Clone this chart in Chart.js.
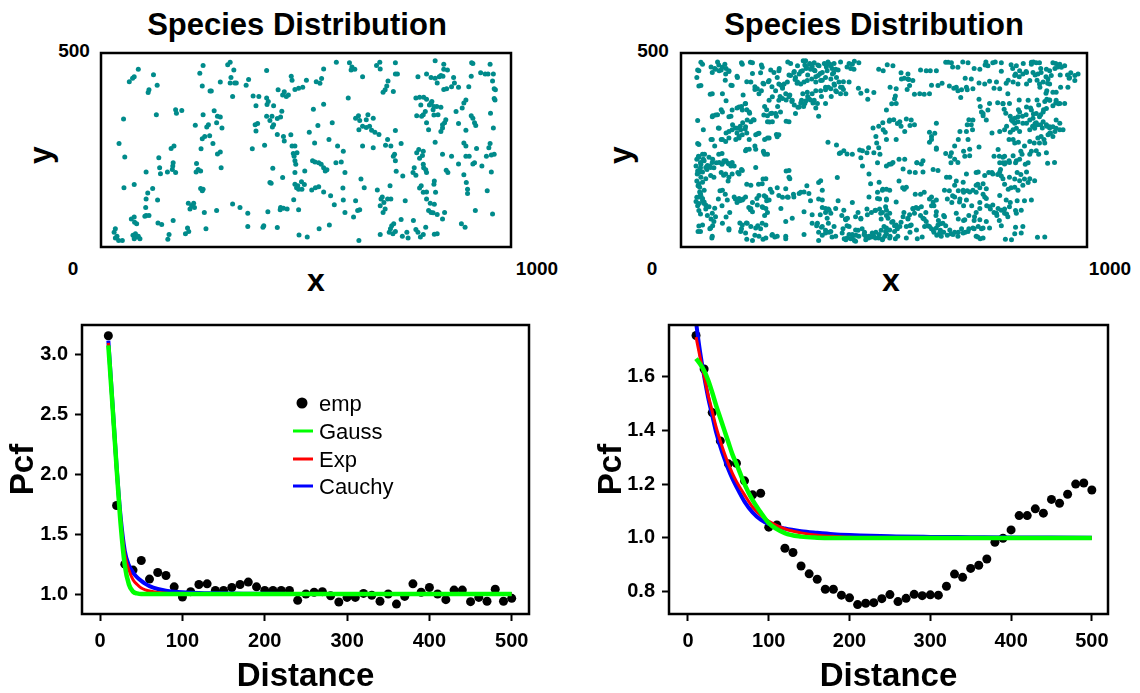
<!DOCTYPE html>
<html><head><meta charset="utf-8">
<script src="https://cdn.jsdelivr.net/npm/chart.js@4"></script>
<style>
body{margin:0;background:#fff;width:1140px;height:693px;position:relative;overflow:hidden;font-family:"Liberation Sans",Arial,Helvetica,sans-serif;}
canvas{position:absolute;}
.t{position:absolute;font-weight:bold;color:#000;white-space:nowrap;line-height:1;transform:translate(-50%,-50%);}
.lg{position:absolute;font-size:22px;color:#000;line-height:1;transform:translateY(-50%);white-space:nowrap;}
.ln{position:absolute;width:20px;height:3px;transform:translateY(-50%);}
.dot{position:absolute;width:11px;height:11px;border-radius:50%;background:#000;transform:translate(-50%,-50%);}
</style></head><body>
<canvas id="cA" width="430" height="214" style="left:91px;top:43px"></canvas>
<canvas id="cB" width="426" height="214" style="left:671px;top:43px"></canvas>
<canvas id="cC" width="560" height="393" style="left:0px;top:300px"></canvas>
<canvas id="cD" width="570" height="393" style="left:570px;top:300px"></canvas>

<div class="t" style="left:297px;top:24px;font-size:31px">Species Distribution</div>
<div class="t" style="left:40px;top:155px;font-size:32px;transform:translate(-50%,-50%) rotate(-90deg)">y</div>
<div class="t" style="left:316px;top:280px;font-size:32px">x</div>
<div class="t" style="left:74px;top:50px;font-size:19px">500</div>
<div class="t" style="left:73px;top:268px;font-size:19px">0</div>
<div class="t" style="left:537px;top:268px;font-size:19px">1000</div>

<div class="t" style="left:874px;top:24px;font-size:31px">Species Distribution</div>
<div class="t" style="left:620px;top:155px;font-size:32px;transform:translate(-50%,-50%) rotate(-90deg)">y</div>
<div class="t" style="left:891px;top:280px;font-size:32px">x</div>
<div class="t" style="left:653px;top:50px;font-size:19px">500</div>
<div class="t" style="left:652px;top:268px;font-size:19px">0</div>
<div class="t" style="left:1110px;top:268px;font-size:19px">1000</div>

<div class="dot" style="left:302px;top:403px"></div>
<div class="lg" style="left:319px;top:404px">emp</div>
<div class="ln" style="left:293px;top:431px;background:#00ff00"></div>
<div class="lg" style="left:319px;top:432px">Gauss</div>
<div class="ln" style="left:293px;top:459px;background:#ff0000"></div>
<div class="lg" style="left:319px;top:460px">Exp</div>
<div class="ln" style="left:293px;top:486px;background:#0000ff"></div>
<div class="lg" style="left:319px;top:487px">Cauchy</div>

<script>
// ---------- data ----------
const pointsA = [
[91,458],[81,439],[77,435],[69,426],[128,444],[137,417],[117,405],[115,398],[249,468],[241,448],[247,415],[266,402],[315,476],[309,470],[324,456],[317,437],[315,423],[291,425],[326,423],[330,423],[360,432],[354,417],[404,455],[464,440],[466,430],[501,430],[525,426],[538,434],[534,422],[543,459],[574,476],[606,475],[612,464],[610,456],[619,458],[638,439],[672,468],[680,476],[681,459],[718,475],[718,446],[723,446],[700,428],[697,415],[693,405],[688,399],[713,401],[815,480],[836,471],[836,458],[845,456],[829,442],[825,439],[794,446],[773,439],[805,437],[815,435],[834,440],[860,437],[862,423],[855,413],[843,408],[836,406],[820,423],[904,475],[907,473],[949,471],[926,449],[937,446],[944,446],[957,446],[955,428],[903,440],[897,413],[872,412],[959,408],[962,405],
[321,388],[269,402],[371,389],[385,388],[404,384],[408,375],[405,367],[378,364],[421,364],[447,400],[443,392],[452,388],[457,392],[432,405],[473,406],[482,409],[492,412],[603,384],[543,368],[518,355],[768,384],[777,386],[787,386],[794,381],[807,375],[805,371],[801,366],[812,362],[819,362],[829,360],[810,354],[780,366],[791,349],[786,341],[770,338],[782,337],[890,379],[885,371],[881,358],[866,349],[959,383],[961,379],[950,345],[903,338],[907,332],[911,320],[914,313],[957,307],[872,318],[890,301],[812,340],[822,341],[838,320],[833,315],[833,307],[829,298],[841,328],[794,320],[799,302],[182,354],[184,345],[197,352],[55,330],[135,341],[249,341],[276,351],[284,337],[291,335],[282,320],[262,315],[258,309],[230,314],[295,307],[441,350],[438,335],[430,331],[417,337],[412,326],[404,337],[421,315],[418,309],[376,315],[382,318],[378,299],[621,332],[628,338],[631,326],[647,328],[664,332],[651,341],[638,311],[647,308],[655,311],[660,301],[668,296],[678,290],[629,302],[564,320],[529,313],[508,296],[718,300],
[253,285],[265,287],[247,279],[430,290],[445,285],[463,289],[447,273],[466,260],[473,260],[521,268],[556,277],[638,260],[664,256],[699,277],[707,260],[694,262],[732,267],[775,251],[786,247],[770,243],[784,236],[777,229],[815,270],[885,268],[890,260],[916,254],[949,267],[946,256],[940,234],[959,239],[952,237],[911,217],[929,209],[907,214],[872,214],[833,239],[855,234],[890,234],[898,234],[44,267],[58,232],[369,253],[399,262],[178,260],[171,254],[141,230],[291,245],[284,240],[273,267],[244,253],[469,241],[471,234],[473,222],[475,213],[478,243],[577,260],[591,247],[716,239],[713,234],[718,222],
[110,193],[143,204],[145,189],[162,193],[176,217],[175,209],[182,192],[174,200],[233,215],[237,200],[232,193],[243,196],[293,204],[516,222],[522,219],[531,217],[537,213],[543,204],[547,196],[551,199],[573,217],[586,219],[595,192],[497,196],[473,192],[419,203],[443,179],[786,213],[787,204],[792,199],[794,192],[764,204],[761,192],[768,185],[720,195],[736,183],[842,198],[846,192],[885,186],[952,193],
[56,153],[81,161],[126,151],[114,139],[110,124],[138,121],[109,102],[110,81],[107,79],[117,81],[81,77],[74,72],[82,64],[87,60],[243,151],[249,149],[247,145],[213,113],[226,113],[221,106],[217,98],[228,102],[252,89],[282,94],[412,166],[415,164],[473,162],[480,158],[489,168],[496,161],[482,149],[490,149],[477,153],[514,147],[523,153],[531,155],[543,142],[560,132],[590,152],[591,121],[569,109],[595,89],[616,77],[621,119],[626,94],[631,96],[634,175],[642,153],[674,147],[686,129],[683,124],[690,115],[681,106],[693,98],[688,89],[699,124],[707,124],[705,158],[742,119],[777,152],[781,158],[786,141],[794,142],[813,170],[812,162],[816,141],[794,124],[803,113],[813,110],[799,94],[805,89],[810,88],[820,84],[838,89],[833,72],[891,166],[894,149],[894,138],[942,145],[913,94],[955,85],[470,122],[438,102],[445,100],[437,96],[454,98],[482,96],[407,91],[339,102],[321,111],[358,87],[256,47],[211,49],[214,40],[206,34],[176,68],[166,32],[163,20],[148,58],[139,62],
[397,55],[395,51],[430,50],[358,53],[557,57],[532,47],[483,31],[503,26],[629,17],[681,32],[706,47],[709,55],[714,60],[718,40],[732,71],[703,38],[712,34],[735,28],[749,23],[746,38],[762,68],[768,45],[773,38],[779,26],[786,32],[792,51],[820,34],[813,33],[879,60],[888,51],[35,47],[32,38],[39,28],[35,23],[43,17],[52,17],[78,30],[84,34],[88,26],[91,28],[95,21],[81,21]
];

const pointsB = [
[49,476],[41,456],[39,437],[44,415],[74,464],[83,460],[90,477],[93,469],[99,456],[108,471],[111,460],[118,452],[109,430],[123,417],[138,440],[149,475],[171,476],[162,426],[176,447],[182,413],[196,449],[198,469],[202,422],[221,456],[215,426],[224,413],[237,437],[242,460],[246,417],[250,409],[263,477],[270,473],[266,443],[279,452],[281,432],[286,422],[295,452],[301,480],[305,469],[308,460],[312,443],[317,473],[323,466],[328,456],[332,439],[337,469],[343,447],[348,430],[353,473],[358,464],[362,477],[367,471],[372,460],[376,449],[383,437],[387,456],[393,477],[400,426],[409,464],[414,473],[418,460],[427,479],[487,458],[508,470],[542,449],[550,435],[561,432],[590,456],[614,454],[617,417],[652,476],[658,476],[669,464],[694,477],[700,435],[722,460],[734,423],[751,477],[749,469],[774,477],[760,427],[789,453],[813,470],[817,460],[806,430],[801,422],[824,446],[833,439],[843,473],[850,452],[863,476],[868,477],[872,443],[877,430],[886,460],[899,439],[903,422],[916,475],[921,460],[928,464],[934,443],[952,443],[956,435],[960,449],[935,412],[923,473],
[72,394],[78,338],[90,341],[111,377],[99,354],[123,337],[138,358],[149,362],[158,369],[162,354],[169,345],[178,328],[153,392],[182,406],[198,403],[206,362],[211,354],[213,338],[224,345],[235,337],[238,362],[244,388],[250,383],[259,379],[268,392],[273,375],[279,366],[288,360],[295,371],[302,362],[308,377],[312,388],[319,379],[325,371],[332,358],[339,337],[346,388],[356,405],[363,412],[370,388],[378,417],[383,400],[393,412],[400,406],[437,409],[443,396],[458,403],[460,381],[475,398],[515,412],[519,369],[528,389],[557,406],[575,394],[599,394],[643,422],[661,415],[672,409],[689,385],[691,405],[705,405],[771,409],[734,381],[737,362],[740,348],[744,338],[780,372],[793,369],[796,355],[800,345],[811,337],[817,328],[831,354],[833,379],[841,337],[850,341],[861,358],[868,343],[872,318],[877,379],[881,366],[886,341],[893,354],[896,375],[901,381],[908,379],[916,364],[923,371],[930,369],[899,396],[901,403],[884,412],
[41,326],[55,302],[74,277],[83,260],[92,307],[99,277],[101,241],[111,294],[118,281],[127,315],[134,307],[138,294],[143,285],[146,311],[152,320],[158,304],[162,294],[161,251],[168,277],[189,292],[206,277],[213,281],[218,322],[235,290],[237,284],[259,324],[206,239],[203,247],[182,260],[362,270],[383,263],[390,241],[409,240],[440,250],[443,230],[458,243],[462,256],[473,307],[480,285],[482,268],[487,256],[490,239],[487,311],[497,320],[503,296],[513,324],[524,328],[533,318],[542,311],[555,330],[564,313],[484,217],[506,209],[513,213],[537,226],[581,217],[612,296],[612,270],[617,285],[652,241],[665,217],[663,234],[674,260],[683,277],[687,298],[696,247],[699,234],[709,328],[705,315],[718,302],[734,258],[766,294],[771,234],[781,251],[784,234],[785,217],[793,217],[797,234],[802,311],[808,277],[811,296],[817,324],[822,332],[824,217],[831,270],[837,247],[840,239],[846,260],[848,213],[855,217],[863,247],[859,302],[866,311],[870,268],[875,320],[878,315],[881,239],[886,315],[887,285],[890,307],[894,277],[896,268],[901,311],[908,307],[910,294],[916,285],[921,298],[903,216],[787,200],[799,217],[808,222],
[41,267],[43,234],[39,226],[37,209],[41,196],[44,192],[48,204],[49,213],[55,226],[58,239],[64,200],[65,210],[71,209],[78,226],[81,204],[87,217],[93,239],[101,213],[105,219],[111,222],[116,216],[123,209],[99,192],[105,185],[116,170],[140,192],[149,200],[39,170],[42,158],[46,142],[49,132],[39,128],[37,117],[41,106],[44,94],[48,85],[53,119],[56,113],[61,98],[65,81],[74,72],[78,55],[71,47],[44,54],[42,40],[76,23],[92,124],[101,106],[96,145],[109,136],[111,77],[120,89],[118,47],[83,100],[134,124],[138,115],[145,119],[153,124],[162,162],[167,102],[171,96],[176,115],[191,162],[187,125],[202,175],[205,132],[211,119],[220,149],[224,141],[202,102],[206,81],[213,89],[189,55],[196,47],[149,47],[161,62],[145,62],[162,20],[176,17],[182,30],[202,20],[224,30],[231,26],[258,21],[237,153],[250,128],[264,128],[259,196],[268,176],[277,136],[295,141],[310,158],[319,119],[339,166],[339,124],[348,102],[356,89],[363,98],[343,83],[363,61],[334,55],[346,51],[356,43],[339,38],[348,30],[339,17],[365,38],[372,26],[385,179],[387,119],[396,81],[405,72],[409,55],[399,47],[402,21],[414,32],[418,21],[422,115],[436,89],[443,72],[446,47],[452,38],[455,28],[462,23],[469,26],[475,28],[480,38],[487,23],[493,43],[497,21],[506,34],[515,28],[436,43],[431,30],[409,23],[427,17],[458,98],[469,89],[478,94],[489,98],[496,89],[484,141],[497,149],[506,149],[506,124],[489,124],[493,72],[506,81],[519,64],[526,55],[533,47],[542,64],[549,89],[559,72],[564,55],[572,98],[579,102],[582,21],[555,23],[528,21],[537,170],[546,153],[550,149],[577,136],[599,141],[612,124],[617,106],[603,89],[590,81],[599,72],[608,55],[617,47],[623,38],[630,30],[639,43],[647,38],[656,30],[665,34],[674,38],[683,38],[691,47],[700,38],[709,47],[722,47],[731,26],[740,47],[628,81],[634,68],[639,60],[652,55],[661,145],[669,132],[678,170],[683,145],[687,124],[696,141],[705,145],[683,72],[696,68],[709,81],[722,68],[727,89],[736,115],[731,162],[736,153],[744,136],[753,106],[762,98],[771,89],[778,81],[784,68],[789,55],[797,98],[802,85],[811,115],[806,149],[813,153],[822,175],[828,192],[837,187],[846,175],[855,166],[797,162],[780,187],[766,192],[758,192],[789,183],[824,94],[828,119],[846,119],[824,51],[822,34],[799,20],[878,25],[737,21],[667,115],[647,81],[594,26],[564,38],[621,200],[577,192],[581,217],[727,192],[590,136],[623,106],[727,141],[696,106],[716,106],[656,124],
[307,480],[317,471],[328,475],[340,467],[356,471],[369,467],[377,473],[381,458],[373,446],[360,454],[348,450],[338,442],[330,454],[319,458],[309,463],[299,454],[291,446],[282,437],[287,425],[295,420],[303,425],[311,429],[322,433],[332,425],[344,429],[356,437],[369,433],[377,420],[389,425],[397,412],[381,403],[369,408],[356,412],[344,403],[332,403],[323,395],[311,399],[300,395],[297,378],[305,370],[315,382],[328,378],[336,370],[356,370],[291,361],[282,344],[274,378],[266,387],[258,395],[250,412],[241,420],[233,403],[225,387],[217,378],[241,378],[254,420],[262,425],[270,442],[278,450],[287,467],[422,471],[426,458],[438,475],[414,425],[406,395],[393,395],[102,463],[94,454],[85,458],[77,450],[110,446],[118,454],[44,454],[53,471],[49,416],[77,395],[102,395],[126,416],[139,437],[151,471],[176,475],[200,463],[204,420],[192,395],[188,408],[217,429],[229,450],[241,454],[172,425],[159,370],[168,348],[151,353],[143,361],[126,353],[118,336],[102,348],[85,340],[77,336],[94,306],[118,298],[126,302],[139,306],[147,302],[151,289],[159,310],[163,327],[172,323],[180,327],[143,281],[135,277],[110,272],[102,277],[77,277],[44,264],[184,289],[192,293],[217,281],[204,340],[221,344],[233,344],[245,348],[213,323],[225,323],[241,289],[266,323],
[44,231],[53,239],[48,218],[57,222],[69,231],[77,218],[73,205],[61,205],[44,197],[53,193],[40,188],[49,180],[61,176],[73,184],[81,180],[44,163],[53,167],[46,154],[57,146],[48,138],[44,129],[53,125],[57,116],[44,112],[61,108],[69,104],[77,87],[85,78],[81,66],[53,57],[48,40],[73,49],[77,28],[102,61],[118,44],[94,218],[106,222],[118,214],[126,218],[131,209],[110,188],[118,180],[126,188],[143,188],[151,197],[159,248],[168,252],[184,252],[204,243],[213,239],[102,146],[114,121],[131,129],[143,125],[151,121],[159,129],[172,159],[184,205],[200,163],[209,176],[192,133],[209,129],[217,121],[188,108],[200,104],[209,99],[172,99],[176,91],[163,61],[151,57],[172,53],[184,49],[200,61],[209,57],[159,36],[147,40],[192,28],[209,23],[225,32],[237,28],[258,28],[303,32],[246,99],[241,133],[258,150],[266,197],[266,180],[262,129],[278,129],[291,138],[303,142],[315,138],[274,74],[258,66],[303,91],[323,83],[344,171],[348,146],[348,121],[356,99],[365,95],[360,74],[348,53],[356,36],[369,40],[377,53],[381,28],[397,36],[406,70],[414,53],[422,32],[430,44],[438,28],[451,32],[463,28],[471,36],[479,23],[488,32],[496,19],[422,23],[455,19],[430,15],[406,19],[393,243],[401,248],[422,239],[447,248],[475,243],[447,209],[463,188],[467,163],[463,129],[488,167],[496,146],[484,125],[504,104],[492,87],[479,95],[459,83],[443,74],[430,78],[410,74],[401,95],[381,99],[369,87],[336,61],[323,61],[500,53],[504,40],
[506,95],[514,87],[510,74],[522,66],[530,57],[539,53],[526,40],[514,44],[506,49],[502,28],[514,23],[534,28],[547,78],[559,74],[555,53],[567,57],[580,44],[575,87],[584,99],[592,104],[571,99],[563,83],[596,74],[604,66],[600,53],[612,53],[621,44],[629,49],[637,36],[641,28],[633,57],[645,61],[649,78],[629,91],[621,116],[617,129],[629,121],[649,146],[662,44],[670,32],[682,28],[695,36],[707,40],[719,49],[732,53],[744,49],[723,78],[736,70],[752,66],[760,49],[699,70],[678,87],[674,129],[686,116],[703,121],[711,142],[727,159],[744,163],[752,150],[768,188],[785,193],[793,176],[809,180],[781,99],[789,95],[797,87],[805,78],[809,104],[826,87],[838,95],[842,53],[838,36],[814,19],[744,23],[727,28],[777,87],[768,108],[801,121],[822,154],[834,171],[851,193],[859,176],[871,171],[826,222],[818,235],[834,226],[793,231],[797,214],[809,218],[859,239],[875,248],[900,243],[920,218],[863,121],[842,159],[830,146],[785,133],[748,129],[695,146],[674,159],[662,180],[633,197],[596,193],[555,154],[514,146],[506,121],[530,116],[518,214],[522,218],[551,226],[563,193],[547,201],[596,222],[592,214],[629,252],[666,243],[711,252],[711,235],[674,226],[682,218],[732,193],[748,184],[752,125],[695,167],[654,180],[736,99],[896,26],[760,104],[703,188],[719,146],
[826,467],[834,454],[822,442],[818,425],[830,420],[842,446],[851,450],[863,471],[875,475],[883,475],[867,450],[879,446],[887,450],[900,458],[908,454],[912,442],[904,433],[892,425],[883,420],[908,420],[916,399],[924,399],[933,471],[937,463],[945,467],[957,437],[970,442],[978,446],[970,429],[953,412],[859,429],[851,420],[924,378],[933,370],[945,370],[908,378],[900,357],[892,348],[883,336],[875,344],[867,332],[859,327],[851,319],[842,319],[830,323],[822,319],[814,327],[818,302],[826,306],[892,323],[900,315],[908,310],[916,310],[924,306],[933,302],[908,293],[924,327],[933,319],[941,302],[871,306],[863,353],[851,361],[834,348],[830,336],[809,370],[793,370],[760,370],[744,344],[752,327],[756,353],[719,327],[715,315],[703,298],[707,277],[785,298],[797,302],[818,277],[822,268],[834,298],[859,272],[879,281],[883,268],[904,289],[666,475],[682,463],[707,475],[715,433],[703,412],[678,412],[682,403],[719,408],[736,458],[748,420],[756,467],[768,475],[789,475],[777,425],[785,408],[629,454],[633,416],[604,454],[588,395],[612,395],[559,446],[543,433],[530,408],[526,382],[530,370],[506,353],[498,302],[506,277],[514,327],[539,323],[551,298],[567,327],[575,315],[629,319],[625,293],[617,277],[629,255],[530,277],[498,454],[522,467],[559,433],[571,429],[563,416],[855,378],[805,395]
];

// pair correlation function panels
const distEmp = [10,20,30,40,50,60,70,80,90,100,110,120,130,140,150,160,170,180,190,200,210,220,230,240,250,260,270,280,290,300,310,320,330,340,350,360,370,380,390,400,410,420,430,440,450,460,470,480,490,500];
const empLeft = [3.16,1.74,1.25,1.20,1.28,1.125,1.18,1.155,1.06,0.975,1.02,1.08,1.085,1.03,1.03,1.055,1.08,1.10,1.06,1.03,1.03,1.03,1.03,0.947,1.0,1.015,1.02,0.986,0.933,0.972,0.972,1.005,0.99,0.94,1.0,0.916,0.98,1.085,1.015,1.055,1.0,0.953,1.033,1.033,0.936,0.972,0.94,1.04,0.94,0.964];
const empRight = [1.751,1.627,1.465,1.36,1.275,1.277,1.212,1.16,1.166,1.04,1.048,0.962,0.946,0.896,0.867,0.847,0.81,0.81,0.788,0.778,0.753,0.758,0.76,0.775,0.79,0.764,0.776,0.791,0.786,0.789,0.788,0.821,0.866,0.854,0.887,0.899,0.922,0.984,0.999,1.03,1.083,1.083,1.108,1.092,1.143,1.129,1.162,1.2,1.204,1.178];

const distFit = [10,15,20,25,30,35,40,45,50,55,60,70,80,90,100,120,140,160,180,200,250,300,350,400,450,500];
const gaussLeft  = [3.08,2.58,2.06,1.58,1.24,1.08,1.02,1.005,1.0,1.0,1.0,1.0,1.0,1.0,1.0,1.0,1.0,1.0,1.0,1.0,1.0,1.0,1.0,1.0,1.0,1.0];
const expLeft    = [3.10,2.55,2.03,1.62,1.33,1.20,1.12,1.08,1.05,1.035,1.025,1.012,1.006,1.003,1.001,1.0,1.0,1.0,1.0,1.0,1.0,1.0,1.0,1.0,1.0,1.0];
const cauchyLeft = [3.12,2.60,2.07,1.64,1.36,1.24,1.18,1.14,1.11,1.085,1.066,1.042,1.028,1.02,1.015,1.009,1.006,1.004,1.003,1.002,1.001,1.0,1.0,1.0,1.0,1.0];
const gaussRight  = [1.665,1.645,1.62,1.585,1.54,1.49,1.445,1.40,1.355,1.31,1.275,1.20,1.14,1.095,1.055,1.018,1.005,1.001,1.0,1.0,1.0,1.0,1.0,1.0,1.0,1.0];
const expRight    = [1.745,1.67,1.60,1.53,1.47,1.41,1.36,1.315,1.275,1.24,1.21,1.16,1.115,1.085,1.062,1.034,1.019,1.01,1.006,1.003,1.001,1.0,1.0,1.0,1.0,1.0];
const cauchyRight = [1.80,1.69,1.60,1.52,1.455,1.39,1.34,1.295,1.255,1.22,1.19,1.135,1.095,1.068,1.052,1.035,1.025,1.019,1.014,1.011,1.006,1.004,1.003,1.002,1.0015,1.001];

const xTicks = [0,100,200,300,400,500];
const yTicksLeft = [1.0,1.5,2.0,2.5,3.0];
const yTicksRight = [0.8,1.0,1.2,1.4,1.6];

// ---------- drawing ----------
const FONT = '"Liberation Sans", Arial, Helvetica, sans-serif';
const boxPlugin = {
  id: 'box',
  afterDraw(chart) {
    const {ctx, chartArea: a} = chart;
    ctx.save();
    ctx.strokeStyle = '#000';
    ctx.lineWidth = 2.5;
    ctx.strokeRect(a.left, a.top, a.right - a.left, a.bottom - a.top);
    ctx.restore();
  }
};
const toXY = (xs, ys) => xs.map((x, i) => ({x: x, y: ys[i]}));

function speciesChart(id, pts) {
  return new Chart(document.getElementById(id), {
    type: 'scatter',
    data: {datasets: [{
      data: pts.map(p => ({x: p[0], y: p[1]})),
      backgroundColor: '#008b8b', borderWidth: 0,
      pointRadius: 2.5, pointHoverRadius: 2.5
    }]},
    options: {
      responsive: false, animation: false, events: [],
      layout: {padding: 10},
      plugins: {legend: {display: false}, tooltip: {enabled: false}},
      scales: {
        x: {type: 'linear', min: 0, max: 1000, display: false},
        y: {type: 'linear', min: 0, max: 500, display: false}
      }
    },
    plugins: [boxPlugin]
  });
}

function pcfChart(id, o) {
  const tickFont = {family: FONT, size: 20, weight: 'bold'};
  const titleFont = {family: FONT, size: 33, weight: 'bold', lineHeight: 1};
  return new Chart(document.getElementById(id), {
    type: 'scatter',
    data: {datasets: [
      {label: 'Gauss', data: toXY(distFit, o.gauss), showLine: true, borderColor: '#00ff00', borderWidth: 4.5, pointRadius: 0, cubicInterpolationMode: 'monotone'},
      {label: 'Exp', data: toXY(distFit, o.exp), showLine: true, borderColor: '#ff0000', borderWidth: 3, pointRadius: 0, cubicInterpolationMode: 'monotone'},
      {label: 'Cauchy', data: toXY(distFit, o.cauchy), showLine: true, borderColor: '#0000ff', borderWidth: 4, pointRadius: 0, cubicInterpolationMode: 'monotone'},
      {label: 'emp', data: toXY(distEmp, o.emp), backgroundColor: '#000', borderWidth: 0, pointRadius: 4.5}
    ]},
    options: {
      responsive: false, animation: false, events: [],
      layout: {padding: {left: 0, top: 25, right: o.padRight, bottom: 0}},
      plugins: {legend: {display: false}, tooltip: {enabled: false}},
      scales: {
        x: {
          type: 'linear', min: o.xmin, max: o.xmax,
          afterBuildTicks: s => { s.ticks = xTicks.map(v => ({value: v})); },
          afterFit: s => { s.height = 79; },
          grid: {drawOnChartArea: false, drawTicks: true, tickLength: 7, tickWidth: 2, tickColor: '#000'},
          border: {display: false},
          ticks: {color: '#000', font: tickFont, padding: 8, maxRotation: 0, callback: v => String(v)},
          title: {display: true, text: 'Distance', color: '#000', font: titleFont, padding: {top: 0, bottom: 0}}
        },
        y: {
          type: 'linear', min: o.ymin, max: o.ymax,
          afterBuildTicks: s => { s.ticks = o.yTicks.map(v => ({value: v})); },
          afterFit: s => { s.width = o.yWidth; },
          grid: {drawOnChartArea: false, drawTicks: true, tickLength: 7, tickWidth: 2, tickColor: '#000'},
          border: {display: false},
          ticks: {color: '#000', font: tickFont, padding: 7, callback: v => Number(v).toFixed(1)},
          title: {display: true, text: 'Pcf', color: '#000', font: titleFont, padding: {top: o.titlePad, bottom: 0}}
        }
      }
    },
    plugins: [boxPlugin]
  });
}

speciesChart('cA', pointsA);
speciesChart('cB', pointsB);
pcfChart('cC', {gauss: gaussLeft, exp: expLeft, cauchy: cauchyLeft, emp: empLeft,
  xmin: -22, xmax: 521, ymin: 0.833, ymax: 3.25, yTicks: yTicksLeft, yWidth: 82, padRight: 31, titlePad: 7});
pcfChart('cD', {gauss: gaussRight, exp: expRight, cauchy: cauchyRight, emp: empRight,
  xmin: -23.5, xmax: 520, ymin: 0.718, ymax: 1.79, yTicks: yTicksRight, yWidth: 99, padRight: 32, titlePad: 25});
</script>
</body></html>
